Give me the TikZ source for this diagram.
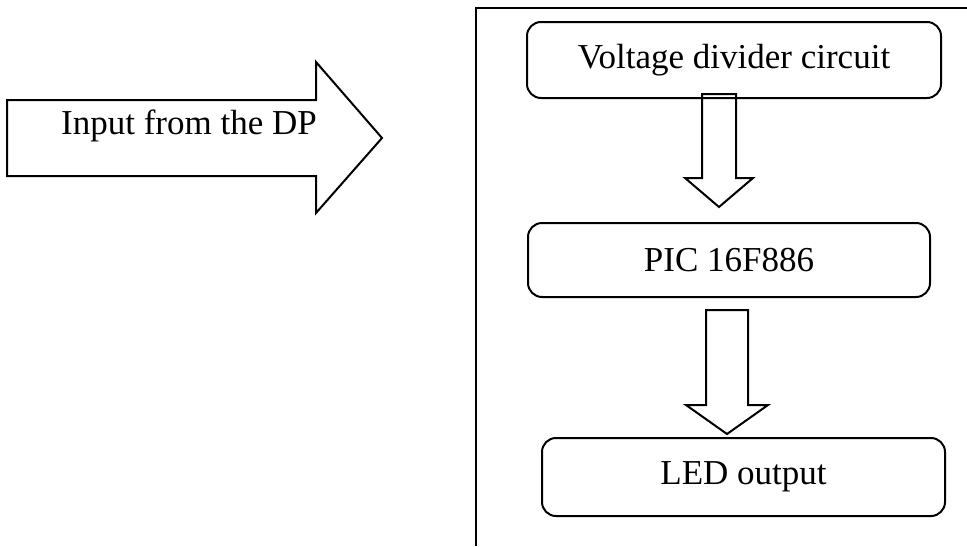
\documentclass[tikz,border=0pt]{standalone}
\usepackage{fontspec}
\setmainfont{Liberation Serif}
\usetikzlibrary{calc, positioning}

\tikzset{
  block/.style={draw, line width=1pt, rounded corners=7pt, align=center, inner sep=0pt},
  fatarrow/.style={draw, line width=1pt, line join=miter},
}
% hollow arrow pointing down: top, tip, half shaft, half head, head length
\newcommand{\downblock}[5]{%
  \draw[fatarrow] ($(#1)+(-#3,0)$) -- ($(#2)+(-#3,-#5)$) -- ($(#2)+(-#4,-#5)$) -- (#2)
    -- ($(#2)+(#4,-#5)$) -- ($(#2)+(#3,-#5)$) -- ($(#1)+(#3,0)$) -- cycle;}

\begin{document}
\begin{tikzpicture}[x=0.5pt, y=-0.5pt, font=\fontsize{17.5}{21}\selectfont]
    \useasboundingbox (0,0) rectangle (967,546);
    % input arrow
    \draw[fatarrow] (7,100) -- (316,100) -- (316,62) -- (382,138) -- (316,213)
      -- (316,176) -- (7,176) -- cycle;
    \node (input) at (189,126) {Input from the DP};
    % frame
    \draw[line width=1pt] (476,546) -- (476,8) -- (967,8);
    % blocks
    \node[block, minimum width=207pt, minimum height=38pt] (vdc) at (734,60) {Voltage divider circuit};
    \node[block, minimum width=201pt, minimum height=37pt] (pic) at (729,260) {PIC 16F886};
    \node[block, minimum width=201.5pt, minimum height=39pt] (led) at (743.5,477) {LED output};
    % arrows between blocks
    \coordinate (a1top) at ($(vdc.south)+(-15,-5)$);
    \coordinate (a1tip) at ($(pic.north)+(-10,-15)$);
    \coordinate (a2top) at ($(pic.south)+(-2,12)$);
    \coordinate (a2tip) at ($(led.north)+(-16.5,-3)$);
    \downblock{a1top}{a1tip}{17}{34}{29}
    \downblock{a2top}{a2tip}{21}{41}{29}
  \end{tikzpicture}
\end{document}
